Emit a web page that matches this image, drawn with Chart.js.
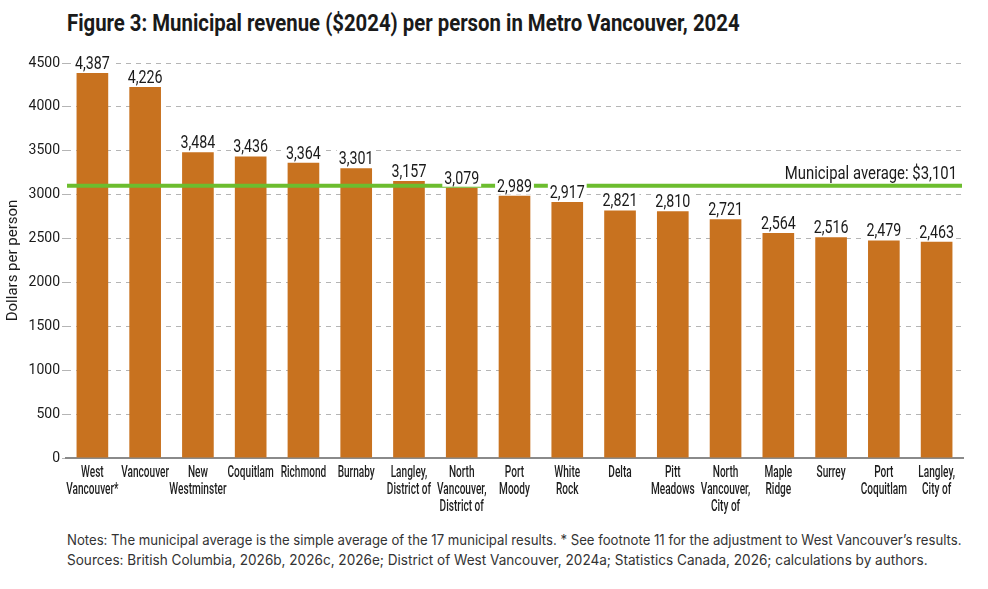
<!DOCTYPE html>
<html>
<head>
<meta charset="utf-8">
<script src="https://cdn.jsdelivr.net/npm/chart.js@4"></script>
<style>
  body { margin: 0; background: #fff; }
  #wrap { position: relative; width: 988px; height: 589px; overflow: hidden; }
  #title { position: absolute; left: 67px; top: 10px; font: bold 23px Roboto, sans-serif; color: #1a1a1a; white-space: nowrap; transform-origin: left top; }
  #box { position: absolute; left: 0; top: 45px; width: 988px; height: 475px; }
  #notes { position: absolute; left: 67px; top: 530px; font: 14px Inter, Roboto, sans-serif; color: #333; line-height: 20px; white-space: nowrap; }
  #notes span { display: inline-block; transform-origin: left top; }
</style>
</head>
<body>
<div id="wrap">
  <div id="title">Figure 3: Municipal revenue ($2024) per person in Metro Vancouver, 2024</div>
  <div id="box"><canvas id="grafico"></canvas></div>
  <div id="notes">
    <span data-w="895">Notes: The municipal average is the simple average of the 17 municipal results. * See footnote 11 for the adjustment to West Vancouver’s results.</span><br>
    <span data-w="861">Sources: British Columbia, 2026b, 2026c, 2026e; District of West Vancouver, 2024a; Statistics Canada, 2026; calculations by authors.</span>
  </div>
</div>
<script>
const municipios = [
  ['West', 'Vancouver*'], 'Vancouver', ['New', 'Westminster'], 'Coquitlam', 'Richmond', 'Burnaby',
  ['Langley,', 'District of'], ['North', 'Vancouver,', 'District of'], ['Port', 'Moody'], ['White', 'Rock'],
  'Delta', ['Pitt', 'Meadows'], ['North', 'Vancouver,', 'City of'], ['Maple', 'Ridge'], 'Surrey',
  ['Port', 'Coquitlam'], ['Langley,', 'City of']
];
const receita = [4387, 4226, 3484, 3436, 3364, 3301, 3157, 3079, 2989, 2917, 2821, 2810, 2721, 2564, 2516, 2479, 2463];
const media = 3101;
const yTicks = [0, 500, 1000, 1500, 2000, 2500, 3000, 3500, 4000, 4500];

// título e notas ajustados à largura do original
const titulo = document.getElementById('title');
titulo.style.transform = 'scaleX(' + (673 / titulo.offsetWidth) + ')';
document.querySelectorAll('#notes span').forEach(s => {
  s.style.transform = 'scaleX(' + (Number(s.dataset.w) / s.offsetWidth) + ')';
});

// texto "estreito": escala horizontal
function textoEstreito(ctx, txt, x, y, sx) {
  ctx.save();
  ctx.translate(x, y);
  ctx.scale(sx, 1);
  ctx.fillText(txt, 0, 0);
  ctx.restore();
}

const extras = {
  id: 'extras',
  afterDatasetsDraw(chart) {
    const ctx = chart.ctx;
    const area = chart.chartArea;
    const y = chart.scales.y.getPixelForValue(media);
    ctx.save();
    ctx.strokeStyle = '#6cbd2e';
    ctx.lineWidth = 4;
    ctx.beginPath();
    ctx.moveTo(area.left + 1, y);
    ctx.lineTo(area.right - 1, y);
    ctx.stroke();

    ctx.fillStyle = '#1a1a1a';
    ctx.font = '17.5px Roboto, sans-serif';
    ctx.textAlign = 'right';
    ctx.textBaseline = 'alphabetic';
    textoEstreito(ctx, 'Municipal average: $' + media.toLocaleString('en-US'), area.right - 6, y - 7, 0.85);

    // valores sobre as barras, com fundo branco
    ctx.font = '19px Roboto, sans-serif';
    ctx.textAlign = 'center';
    const meta = chart.getDatasetMeta(0);
    meta.data.forEach((bar, i) => {
      const txt = receita[i].toLocaleString('en-US');
      const w = ctx.measureText(txt).width * 0.75;
      const by = bar.y - 4;
      ctx.fillStyle = '#fff';
      ctx.fillRect(bar.x - w / 2 - 2, by - 17, w + 4, 20);
      ctx.fillStyle = '#1a1a1a';
      textoEstreito(ctx, txt, bar.x, by, 0.75);
    });

    // rótulos do eixo x
    const xs = chart.scales.x;
    ctx.font = '500 16px Roboto, sans-serif';
    ctx.fillStyle = '#1e1e1e';
    ctx.textBaseline = 'top';
    municipios.forEach((m, i) => {
      const linhas = Array.isArray(m) ? m : [m];
      const px = xs.getPixelForTick(i);
      linhas.forEach((l, k) => textoEstreito(ctx, l, px, xs.top + 7 + k * 17, 0.63));
    });
    ctx.restore();
  }
};

new Chart(document.getElementById('grafico'), {
  type: 'bar',
  data: {
    labels: municipios,
    datasets: [{
      data: receita,
      backgroundColor: '#c8721f',
      barPercentage: 0.6,
      categoryPercentage: 1
    }]
  },
  options: {
    responsive: true,
    maintainAspectRatio: false,
    animation: false,
    layout: { padding: { top: 18, right: 25, left: 0, bottom: 0 } },
    plugins: { legend: { display: false }, tooltip: { enabled: false } },
    scales: {
      x: {
        grid: { display: false },
        border: { color: '#8a8a8a', width: 2 },
        ticks: { display: false },
        afterFit(s) { s.height = 62; }
      },
      y: {
        min: 0,
        max: 4500,
        afterBuildTicks(s) { s.ticks = yTicks.map(v => ({ value: v })); },
        grid: { color: '#b5b5b5', tickLength: 4 },
        border: { display: false, dash: [5, 5] },
        ticks: { color: '#1a1a1a', font: { family: 'Roboto, sans-serif', size: 14 }, padding: 2, callback: v => String(v) },
        title: { display: true, text: 'Dollars per person', color: '#1a1a1a', font: { family: 'Roboto, sans-serif', size: 15 }, padding: 4 },
        afterFit(s) { s.width = 66; }
      }
    }
  },
  plugins: [extras]
});
</script>
</body>
</html>
